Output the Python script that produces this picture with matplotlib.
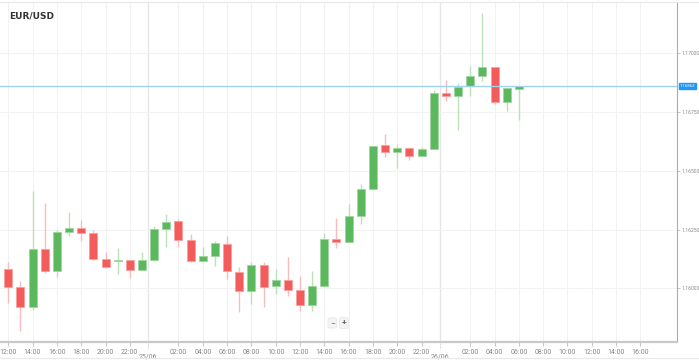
import matplotlib
matplotlib.use('Agg')
import matplotlib.pyplot as plt
import numpy as np

plt.rcParams["font.family"] = ["Roboto", "DejaVu Sans"]

# ----------------------
# 数据：EUR/USD 小时K线（24/06 12:00 起，单位：小时）
# ----------------------
hours = list(range(43))
opens = [1.16081, 1.16007, 1.15919, 1.16167, 1.16072, 1.16240, 1.16258, 1.16234, 1.16126, 1.16115,
         1.16120, 1.16079, 1.16120, 1.16251, 1.16286, 1.16204, 1.16116, 1.16137, 1.16190, 1.16069,
         1.15990, 1.16098, 1.16010, 1.16035, 1.15993, 1.15929, 1.16010, 1.16209, 1.16195, 1.16308,
         1.16423, 1.16610, 1.16581, 1.16598, 1.16563, 1.16593, 1.16830, 1.16820, 1.16861, 1.16903,
         1.16943, 1.16793, 1.16850]
highs = [1.16111, 1.16031, 1.16415, 1.16362, 1.16248, 1.16323, 1.16291, 1.16248, 1.16153, 1.16170,
         1.16122, 1.16153, 1.16265, 1.16315, 1.16294, 1.16231, 1.16177, 1.16203, 1.16224, 1.16092,
         1.16113, 1.16113, 1.16082, 1.16132, 1.16052, 1.16075, 1.16234, 1.16298, 1.16357, 1.16444,
         1.16607, 1.16655, 1.16610, 1.16600, 1.16603, 1.16844, 1.16886, 1.16875, 1.16947, 1.17170,
         1.16943, 1.16854, 1.16862]
lows = [1.15936, 1.15820, 1.15908, 1.16064, 1.16049, 1.16224, 1.16201, 1.16120, 1.16088, 1.16060,
        1.16045, 1.16076, 1.16116, 1.16177, 1.16177, 1.16113, 1.16113, 1.16096, 1.16038, 1.15900,
        1.15933, 1.15922, 1.15974, 1.15969, 1.15905, 1.15905, 1.16010, 1.16170, 1.16195, 1.16272,
        1.16418, 1.16560, 1.16511, 1.16546, 1.16563, 1.16593, 1.16798, 1.16674, 1.16818, 1.16883,
        1.16784, 1.16754, 1.16716]
closes = [1.16006, 1.15919, 1.16167, 1.16072, 1.16238, 1.16258, 1.16234, 1.16126, 1.16092, 1.16120,
          1.16077, 1.16120, 1.16251, 1.16283, 1.16206, 1.16116, 1.16137, 1.16191, 1.16074, 1.15990,
          1.16098, 1.16007, 1.16035, 1.15993, 1.15929, 1.16010, 1.16209, 1.16196, 1.16308, 1.16423,
          1.16607, 1.16581, 1.16596, 1.16564, 1.16593, 1.16830, 1.16818, 1.16858, 1.16903, 1.16943,
          1.16794, 1.16851, 1.16862]
last_price = 1.16862

y_ticks = [1.16000, 1.16250, 1.16500, 1.16750, 1.17000]
x_ticks = [0, 2, 4, 6, 8, 10, 14, 16, 18, 20, 22, 24, 26, 28, 30, 32, 34, 38, 40, 42, 44, 46, 48, 50, 52]
x_labels = ["12:00", "14:00", "16:00", "18:00", "20:00", "22:00", "02:00", "04:00", "06:00", "08:00",
            "10:00", "12:00", "14:00", "16:00", "18:00", "20:00", "22:00", "02:00", "04:00", "06:00",
            "08:00", "10:00", "12:00", "14:00", "16:00"]
day_pos = [11.5, 35.5]
day_labels = ["25/06", "26/06"]

# ----------------------
# 画图
# ----------------------
fig = plt.figure(figsize=(6.99, 3.61), dpi=100)
ax = fig.add_axes([0, 0.0526, 0.9685, 0.9419])

green = "#5cb85c"
red = "#f45b5b"
o = np.array(opens)
c = np.array(closes)
up = c >= o
body_col = [green if u else red for u in up]
wick_col = ["#b9e2b9" if u else "#f9bcbc" for u in up]

ax.vlines(hours, lows, highs, colors=wick_col, linewidth=1.0, zorder=2)
bottoms = np.minimum(o, c)
heights = np.maximum(np.abs(c - o), 0.00004)
ax.bar(hours, heights, bottom=bottoms, width=0.66, color=body_col,
       edgecolor=["#9fd49f" if u else "#f7a0a0" for u in up], linewidth=0.6, zorder=3)

ax.axhline(last_price, color="#9dd3f5", linewidth=1.0, zorder=4)

ax.set_xlim(-0.68, 55.01)
ax.set_ylim(1.157715, 1.172183)

# 网格
for t in x_ticks:
    ax.axvline(t, color="#f2f2f2", linewidth=0.8, zorder=0)
for d in day_pos:
    ax.axvline(d, color="#e6e6e6", linewidth=1.0, zorder=0)
for yv in y_ticks:
    ax.axhline(yv, color="#f2f2f2", linewidth=0.8, zorder=0)

ax.set_xticks(x_ticks)
ax.set_xticklabels(x_labels, fontsize=5, color="#888888")
ax.tick_params(axis="x", length=3, width=0.6, color="#bbbbbb", pad=2)
ax.yaxis.tick_right()
ax.set_yticks(y_ticks)
ax.set_yticklabels(["%.5f" % v for v in y_ticks], fontsize=3.6, color="#888888")
ax.tick_params(axis="y", length=2, width=0.6, color="#bbbbbb", pad=1)

for d, lab in zip(day_pos, day_labels):
    ax.text(d, -0.035, lab, transform=ax.get_xaxis_transform(), fontsize=5,
            color="#888888", ha="center", va="top")
    ax.plot([d, d], [0, -0.02], transform=ax.get_xaxis_transform(), color="#bbbbbb",
            linewidth=0.6, linestyle=(0, (1, 1)), clip_on=False)

for s in ["top", "left"]:
    ax.spines[s].set_visible(False)
ax.spines["right"].set_color("#aaaaaa")
ax.spines["right"].set_linewidth(0.8)
ax.spines["bottom"].set_color("#c8c8c8")
ax.spines["bottom"].set_linewidth(1.6)

# 标题
ax.text(0.0142, 0.972, "EUR/USD", transform=ax.transAxes, fontsize=6.5, fontweight="bold",
        color="#333333", ha="left", va="top", family=["DejaVu Sans"])

# 当前价格标签
ax.text(1.004, last_price, "%.5f" % last_price, transform=ax.get_yaxis_transform(),
        fontsize=3.2, color="white", ha="left", va="center",
        bbox=dict(boxstyle="square,pad=0.25", fc="#2196f3", ec="#2196f3"), clip_on=False)

# 缩放按钮
ax.text(0.491, 0.056, "\u2212", transform=ax.transAxes, fontsize=6, color="#666666",
        ha="center", va="center",
        bbox=dict(boxstyle="round,pad=0.25", fc="#f4f4f4", ec="#e6e6e6", lw=0.5))
ax.text(0.508, 0.056, "+", transform=ax.transAxes, fontsize=6, color="#666666",
        ha="center", va="center", fontweight="bold",
        bbox=dict(boxstyle="round,pad=0.25", fc="#f4f4f4", ec="#e6e6e6", lw=0.5))

# 边框线
fig.add_artist(plt.Line2D([0, 1], [0.995, 0.995], color="#e8e8e8", linewidth=0.8))
fig.add_artist(plt.Line2D([0, 1], [0.008, 0.008], color="#e8e8e8", linewidth=0.8))

fig.savefig("out.png", dpi=100)
plt.close()
